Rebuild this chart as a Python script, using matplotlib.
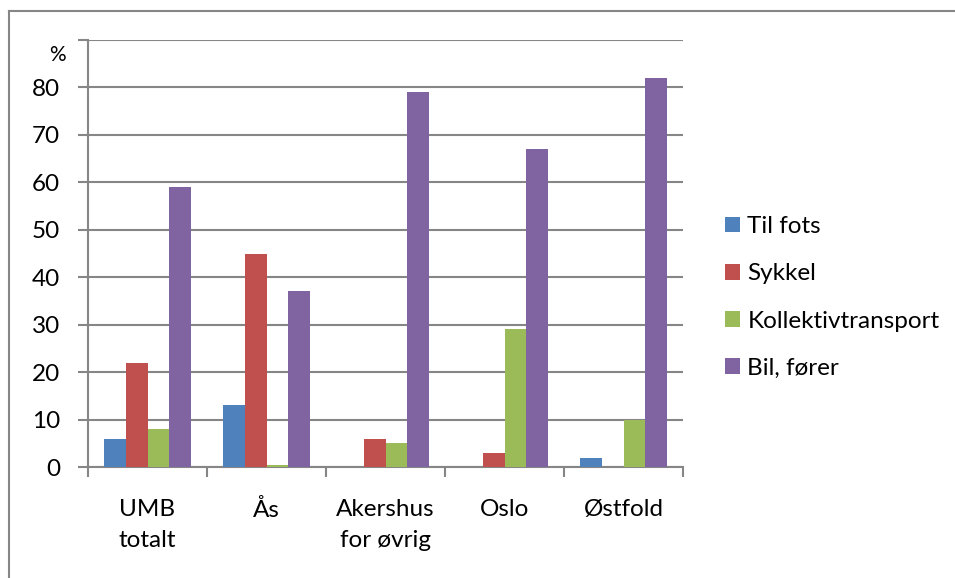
import matplotlib
matplotlib.use("Agg")
import matplotlib.pyplot as plt
import numpy as np
from matplotlib.lines import Line2D

categories = ["UMB\ntotalt", "Ås", "Akershus\nfor øvrig", "Oslo", "Østfold"]
series_names = ["Til fots", "Sykkel", "Kollektivtransport", "Bil, fører"]
til_fots = [6, 13, 0, 0, 2]
sykkel = [22, 45, 6, 3, 0]
kollektiv = [8, 0.5, 5, 29, 10]
bil = [59, 37, 79, 67, 82]
colors = ["#4F81BD", "#C0504D", "#9BBB59", "#8064A2"]
yticks = [0, 10, 20, 30, 40, 50, 60, 70, 80]

plt.rcParams['font.family'] = ['Lato', 'DejaVu Sans']
W, H = 955, 578
FS = 17.5
fig = plt.figure(figsize=(W/100, H/100), dpi=100)
ax = fig.add_axes([88/W, 1-467/H, (683-88)/W, (467-40)/H])

series = [til_fots, sykkel, kollektiv, bil]
n = len(categories)
x = np.arange(n)
bw = 1/5.5
for i, (vals, c, name) in enumerate(zip(series, colors, series_names)):
    ax.bar(x + (i-1.5)*bw, vals, width=bw, color=c, label=name, zorder=3,
           linewidth=0)

ax.set_xlim(-0.5, n-0.5)
ax.set_ylim(0, 90)
ax.set_yticks(yticks + [90])
ax.set_yticklabels([str(v) for v in yticks] + [""], fontsize=FS)
ax.yaxis.grid(True, color='#868686', linewidth=1.5, zorder=0)
ax.set_axisbelow(True)
ax.set_xticks(np.arange(-0.5, n, 1))
ax.set_xticklabels([])
ax.set_xticks(x, minor=True)
ax.set_xticklabels(categories, minor=True, fontsize=FS, linespacing=1.6)
ax.tick_params(axis='x', which='minor', length=0, pad=23)
ax.tick_params(axis='x', which='major', length=7, width=1.5, color='#868686', direction='out')
ax.tick_params(axis='y', length=7, width=1.5, color='#868686', direction='out', pad=13)
for s in ['top', 'right']:
    ax.spines[s].set_visible(False)
for s in ['left', 'bottom']:
    ax.spines[s].set_color('#868686')
    ax.spines[s].set_linewidth(1.5)
    ax.spines[s].set_zorder(2.5)
for lab in ax.get_xticklabels(minor=True):
    lab.set_verticalalignment('top')

fig.text(57/W, 1-55/H, "%", fontsize=15, ha='center', va='center')

leg = ax.legend(loc='center left', bbox_to_anchor=(725/W, 1-297.5/H), bbox_transform=fig.transFigure,
                frameon=False, fontsize=FS, handlelength=0.62, handleheight=0.62,
                labelspacing=1.08, handletextpad=0.3, borderaxespad=0, borderpad=0)

fig.add_artist(Line2D([8.5/W, 8.5/W], [0, 1-10.5/H], transform=fig.transFigure, color='#868686', linewidth=1.5))
fig.add_artist(Line2D([8.5/W, 1], [1-10.5/H, 1-10.5/H], transform=fig.transFigure, color='#868686', linewidth=1.5))

fig.savefig("out.png", dpi=100)
